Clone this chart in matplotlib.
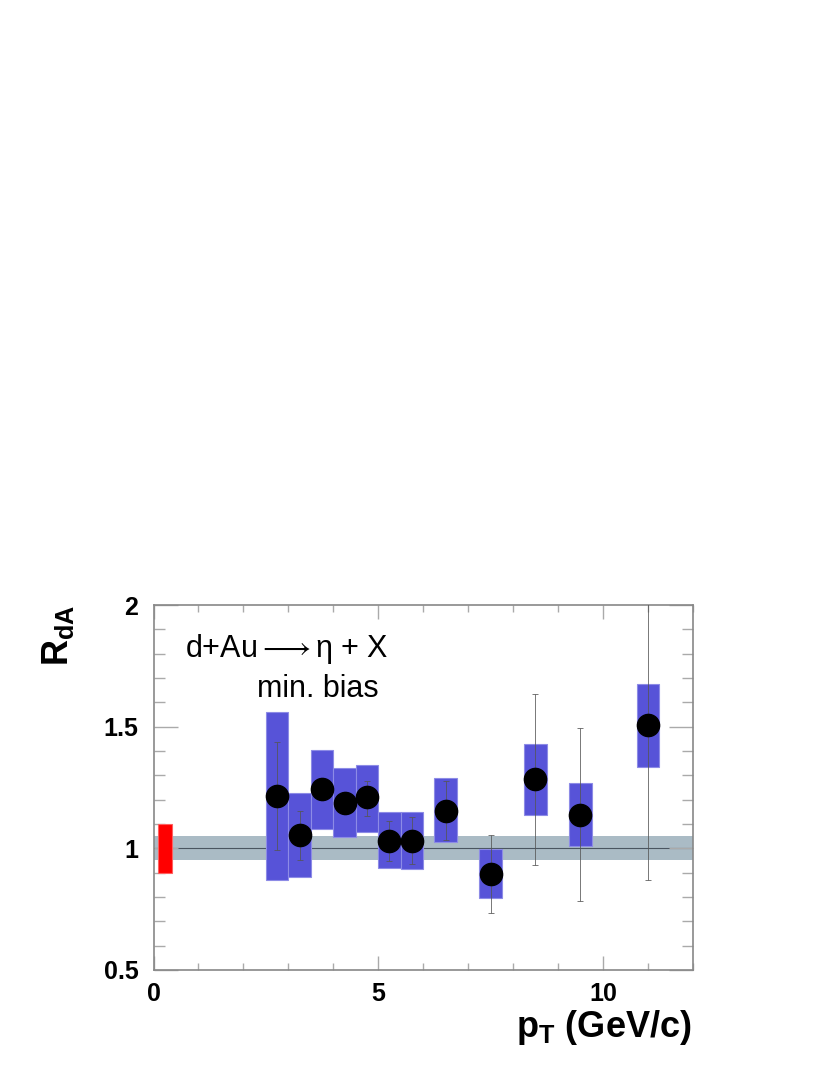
import numpy as np
import matplotlib
matplotlib.use('Agg')
import matplotlib.pyplot as plt
from matplotlib.patches import Rectangle
from matplotlib.ticker import MultipleLocator

plt.rcParams['font.family'] = ['Liberation Sans', 'DejaVu Sans']
plt.rcParams['mathtext.fontset'] = 'custom'
plt.rcParams['mathtext.rm'] = 'Liberation Sans'
plt.rcParams['mathtext.bf'] = 'Liberation Sans:bold'
plt.rcParams['mathtext.it'] = 'Liberation Sans:italic'
plt.rcParams['mathtext.fallback'] = 'stix'

# eta R_dA in d+Au, min. bias
pt = [2.75, 3.25, 3.75, 4.25, 4.75, 5.25, 5.75, 6.5, 7.5, 8.5, 9.5, 11.0]
rda = [1.215, 1.055, 1.243, 1.187, 1.21, 1.031, 1.031, 1.155, 0.893, 1.284, 1.138, 1.507]
stat_hi = [1.438, 1.155, 1.273, 1.222, 1.278, 1.113, 1.127, 1.275, 1.055, 1.633, 1.496, 2.15]
stat_lo = [0.992, 0.952, 1.213, 1.152, 1.134, 0.949, 0.934, 1.034, 0.733, 0.930, 0.782, 0.870]
sys_hi = [1.561, 1.226, 1.404, 1.329, 1.342, 1.148, 1.148, 1.288, 0.997, 1.429, 1.267, 1.675]
sys_lo = [0.870, 0.883, 1.078, 1.045, 1.068, 0.918, 0.914, 1.026, 0.794, 1.138, 1.009, 1.335]

band_err = 0.05      # grey band around unity
norm_err = 0.10      # red normalisation box
x_max = 12

fig = plt.figure(figsize=(8.3, 10.75), dpi=100)
ax = fig.add_axes([0.185, 0.0977, 0.6496, 0.3395])

ax.set_xlim(0, x_max)
ax.set_ylim(0.5, 2)

# grey band and unity line
ax.axhspan(1 - band_err, 1 + band_err, color='#aabbc5', lw=0, zorder=1)
ax.axhline(1, color='#4a5560', lw=0.8, zorder=1.5)

# normalisation uncertainty
ax.add_patch(Rectangle((0.1, 1 - norm_err), 0.3, 2 * norm_err,
                       facecolor='#ff0000', edgecolor='#ff6060', lw=0.8, zorder=2))

# systematic boxes
pt_a = np.array(pt)
rda_a = np.array(rda)
lo = np.array(sys_lo)
hi = np.array(sys_hi)
ax.bar(pt_a, hi - lo, width=0.5, bottom=lo, color='#5753d8',
       edgecolor='#8d8be6', lw=0.8, zorder=2)

# statistical errors
yerr = [rda_a - np.array(stat_lo), np.array(stat_hi) - rda_a]
ax.errorbar(pt_a, rda_a, yerr=yerr, fmt='none', ecolor='#555555', elinewidth=0.7,
            capsize=2, capthick=0.7, alpha=0.8, zorder=3)
ax.plot(pt_a, rda_a, 'o', color='black', ms=16, zorder=4)

# axes styling
for s in ax.spines.values():
    s.set_color('#888888')
    s.set_linewidth(1.2)
ax.xaxis.set_major_locator(MultipleLocator(5))
ax.xaxis.set_minor_locator(MultipleLocator(1))
ax.yaxis.set_major_locator(MultipleLocator(0.5))
ax.yaxis.set_minor_locator(MultipleLocator(0.1))
ax.tick_params(which='both', direction='in', top=True, right=True, color='#aaaaaa')
ax.tick_params(axis='x', which='major', length=10, width=1, pad=9)
ax.tick_params(axis='x', which='minor', length=5, width=1)
ax.tick_params(axis='y', which='major', length=17, width=1, pad=11)
ax.tick_params(axis='y', which='minor', length=8, width=1)
ax.set_xticks([0, 5, 10])
ax.set_xticklabels(['0', '5', '10'], fontsize=18, fontweight='bold')
ax.set_yticks([0.5, 1, 1.5, 2])
ax.set_yticklabels(['0.5', '1', '1.5', '2'], fontsize=18, fontweight='bold')

ax.text(0.70, 1.786, r'd+Au$\longrightarrow$η + X', fontsize=22, ha='left', va='baseline')
ax.text(2.30, 1.622, 'min. bias', fontsize=22, ha='left', va='baseline')

fig.text(58 / 830, 1 - 605 / 1075, r'$\mathbf{R_{dA}}$', fontsize=26, rotation=90,
         ha='center', va='top')
fig.text(692 / 830, 1 - 1037 / 1075, r'$\mathbf{p}_{\mathbf{T}}$ (GeV/c)', fontsize=26,
         fontweight='bold', ha='right', va='baseline')

fig.savefig('out.png', dpi=100)
